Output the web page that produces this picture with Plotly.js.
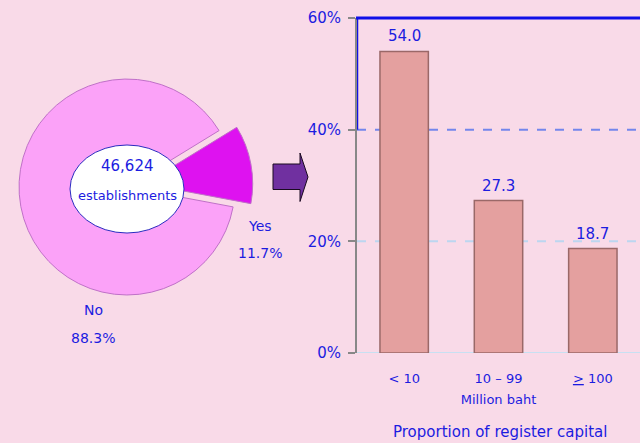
<!DOCTYPE html>
<html>
<head>
<meta charset="utf-8">
<script src="https://cdn.plot.ly/plotly-3.0.1.min.js"></script>
<style>
  html, body { margin: 0; padding: 0; background: #F9DAE8; }
  #chart { width: 640px; height: 443px; }
</style>
</head>
<body>
<div id="chart"></div>
<script>
// ---- data ----
const pieLabels = ['Yes', 'No'];
const pieValues = [11.7, 88.3];
const totalText = '46,624';
const totalUnit = 'establishments';

const capitalCategories = ['< 10', '10 \u2013 99', '<u>></u> 100'];
const capitalShares = [54.0, 27.3, 18.7];
const yTicks = [0, 20, 40, 60];

const xAxisTitle = 'Million baht';
const chartCaption = 'Proportion of register capital';

// ---- styling helpers ----
const W = 640, H = 443;
const px = x => x / W;
const py = y => 1 - y / H;
const blue = '#1c1ce0';
const FONT = '"DejaVu Sans", sans-serif';

const pie = {
  type: 'pie',
  labels: pieLabels,
  values: pieValues,
  sort: false,
  direction: 'clockwise',
  rotation: 58.5,
  pull: [0.167, 0],
  textinfo: 'none',
  hoverinfo: 'label+percent',
  marker: { colors: ['#DE12F0', '#FBA2F8'], line: { color: '#c070c8', width: 1 } },
  domain: { x: [px(1), px(253)], y: [py(313), py(61)] },
  showlegend: false
};

const bars = {
  type: 'bar',
  x: capitalCategories,
  y: capitalShares,
  width: 0.513,
  marker: { color: '#E4A09F', line: { color: '#9a6868', width: 1.5 } },
  hoverinfo: 'x+y',
  showlegend: false
};

const annBase = {
  xref: 'paper', yref: 'paper', showarrow: false,
  xanchor: 'center', yanchor: 'middle'
};
const f14 = { family: FONT, size: 14, color: blue };

// pie label annotations (from data)
const piePos = [[260, 226, 253], [93, 310, 338]];
const pieAnn = [];
pieLabels.forEach((lab, i) => {
  pieAnn.push(Object.assign({}, annBase, { x: px(piePos[i][0]), y: py(piePos[i][1]), text: lab, font: f14 }));
  pieAnn.push(Object.assign({}, annBase, { x: px(piePos[i][0]), y: py(piePos[i][2]), text: pieValues[i].toFixed(1) + '%', font: f14 }));
});

// bar value labels (from data)
const barAnn = capitalCategories.map((c, i) => ({
  xref: 'x', yref: 'y', x: c, y: capitalShares[i], text: capitalShares[i].toFixed(1),
  showarrow: false, xanchor: 'center', yanchor: 'bottom', yshift: 4,
  font: { family: FONT, size: 15, color: blue }
}));

const annotations = pieAnn.concat(barAnn, [
  Object.assign({}, annBase, { x: px(127), y: py(166), text: totalText,
    font: { family: FONT, size: 15, color: blue } }),
  Object.assign({}, annBase, { x: px(127), y: py(195), text: totalUnit,
    font: { family: FONT, size: 13, color: blue } }),
  Object.assign({}, annBase, { x: px(500), y: py(432), text: chartCaption,
    font: { family: FONT, size: 15, color: blue } })
]);

const shapes = [
  // gridlines
  { type: 'line', xref: 'paper', yref: 'paper', x0: px(356), x1: 1, y0: py(18), y1: py(18), line: { color: '#1010e8', width: 3 } },
  { type: 'line', xref: 'paper', yref: 'y', x0: px(357), x1: 1, y0: 40, y1: 40, line: { color: '#7486ec', width: 2, dash: 'dash' }, layer: 'below' },
  { type: 'line', xref: 'paper', yref: 'y', x0: px(357), x1: 1, y0: 20, y1: 20, line: { color: '#bcd6f0', width: 2, dash: 'dash' }, layer: 'below' },
  { type: 'line', xref: 'paper', yref: 'y', x0: px(357), x1: 1, y0: 0, y1: 0, line: { color: '#c8e0f2', width: 2 }, layer: 'below' },
  { type: 'line', xref: 'paper', yref: 'y', x0: px(357.5), x1: px(357.5), y0: 40, y1: 60, line: { color: '#1010e8', width: 1.5 }, layer: 'below' },
  // centre ellipse
  { type: 'circle', xref: 'paper', yref: 'paper', x0: px(70), x1: px(184), y0: py(233), y1: py(145),
    fillcolor: '#ffffff', line: { color: '#2a2ac0', width: 1 } },
  // arrow
  { type: 'path', xref: 'paper', yref: 'paper',
    path: 'M ' + px(273) + ',' + py(164) + ' L ' + px(300) + ',' + py(164) + ' L ' + px(300) + ',' + py(153) +
          ' L ' + px(308) + ',' + py(177) + ' L ' + px(300) + ',' + py(201.5) + ' L ' + px(300) + ',' + py(189.5) +
          ' L ' + px(273) + ',' + py(189.5) + ' Z',
    fillcolor: '#7030A0', line: { color: '#1a0a20', width: 1 } }
];

const layout = {
  width: W, height: H,
  margin: { l: 0, r: 0, t: 0, b: 0 },
  paper_bgcolor: '#F9DAE8',
  plot_bgcolor: 'rgba(0,0,0,0)',
  font: { family: FONT, color: blue },
  xaxis: {
    domain: [px(357), 1],
    range: [-0.5, 2.5],
    type: 'category',
    showgrid: false, zeroline: false, showline: false,
    ticks: '',
    tickfont: { family: FONT, size: 13, color: blue },
    ticklabelstandoff: 16,
    title: { text: xAxisTitle, font: { family: FONT, size: 13, color: blue }, standoff: 9 },
    fixedrange: true
  },
  yaxis: {
    domain: [py(353), py(18)],
    range: [0, 60],
    tickmode: 'array',
    tickvals: yTicks,
    ticktext: yTicks.map(v => v + '%'),
    showgrid: false, zeroline: false,
    showline: true, linecolor: '#888888', linewidth: 2,
    ticks: 'outside', ticklen: 7, tickcolor: '#888888', tickwidth: 2,
    ticklabelstandoff: 4,
    tickfont: { family: FONT, size: 15, color: blue },
    fixedrange: true
  },
  annotations: annotations,
  shapes: shapes
};

Plotly.newPlot('chart', [pie, bars], layout, { displayModeBar: false, staticPlot: true });
</script>
</body>
</html>
